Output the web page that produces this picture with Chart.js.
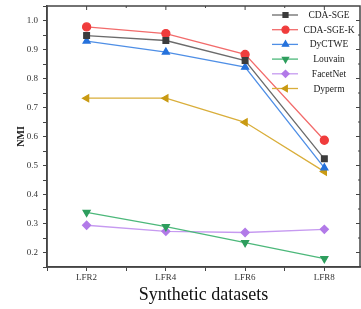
<!DOCTYPE html>
<html>
<head>
<meta charset="utf-8">
<script src="https://cdn.jsdelivr.net/npm/chart.js@4/dist/chart.umd.min.js"></script>
<style>
  html, body { margin: 0; padding: 0; background: #fff; }
  #wrap { width: 361px; height: 309px; }
</style>
</head>
<body>
<div id="wrap"><canvas id="grafico"></canvas></div>
<script>
// dati
var categorie = ['LFR2', 'LFR4', 'LFR6', 'LFR8'];
var cdaSge    = [0.948, 0.931, 0.862, 0.523];
var cdaSgeK   = [0.978, 0.955, 0.883, 0.587];
var dyctwe    = [0.929, 0.891, 0.839, 0.492];
var louvain   = [0.338, 0.289, 0.234, 0.179];
var facetNet  = [0.294, 0.273, 0.269, 0.280];
var dyperm    = [0.732, 0.732, 0.649, 0.479];
var yTicks    = [0.2, 0.3, 0.4, 0.5, 0.6, 0.7, 0.8, 0.9, 1.0];

var serie = [
  { nome: 'CDA-SGE',   valori: cdaSge,   linea: '#6b6b6b', punto: '#3c3c3c', forma: 'rect',     rot: 0 },
  { nome: 'CDA-SGE-K', valori: cdaSgeK,  linea: '#f26b6b', punto: '#f03c3c', forma: 'circle',   rot: 0 },
  { nome: 'DyCTWE',    valori: dyctwe,   linea: '#4f8fe6', punto: '#2672dc', forma: 'triangle', rot: 0 },
  { nome: 'Louvain',   valori: louvain,  linea: '#4cb87a', punto: '#2e9e5e', forma: 'triangle', rot: 180 },
  { nome: 'FacetNet',  valori: facetNet, linea: '#c69af0', punto: '#b27ae8', forma: 'rectRot',  rot: 0 },
  { nome: 'Dyperm',    valori: dyperm,   linea: '#d9ae3a', punto: '#c99a12', forma: 'triangle', rot: -90 }
];

var datasets = serie.map(function (s) {
  return {
    label: s.nome,
    data: s.valori.map(function (v, i) { return { x: i + 1, y: v }; }),
    borderColor: s.linea,
    backgroundColor: s.punto,
    pointBackgroundColor: s.punto,
    pointBorderColor: s.punto,
    pointStyle: s.forma,
    pointRotation: s.rot,
    pointRadius: 4,
    borderWidth: 1.3,
    tension: 0
  };
});

function isMajor(v) {
  return Math.abs(Math.round(v * 10) - v * 10) < 1e-6;
}

// cornice + tacche su lati alto e destro
var cornice = {
  id: 'cornice',
  afterDraw: function (chart) {
    var ctx = chart.ctx, a = chart.chartArea;
    var sx = chart.scales.x, sy = chart.scales.y;
    ctx.save();
    ctx.strokeStyle = '#444';
    ctx.lineWidth = 1.5;
    ctx.strokeRect(a.left, a.top, a.right - a.left, a.bottom - a.top);
    ctx.lineWidth = 1;
    for (var x = 1; x <= 4.01; x += 0.5) {
      var px = sx.getPixelForValue(x);
      var len = Number.isInteger(x) ? 4 : 2;
      ctx.beginPath();
      ctx.moveTo(px, a.top);
      ctx.lineTo(px, a.top + len);
      ctx.stroke();
    }
    for (var y = 0.2; y <= 1.0001; y += 0.05) {
      var py = sy.getPixelForValue(y);
      var l2 = isMajor(y) ? 4 : 2;
      ctx.beginPath();
      ctx.moveTo(a.right, py);
      ctx.lineTo(a.right - l2, py);
      ctx.stroke();
    }
    ctx.restore();
  }
};

// legenda dentro l'area del grafico
var legenda = {
  id: 'legenda',
  afterDraw: function (chart) {
    var ctx = chart.ctx;
    ctx.save();
    ctx.font = '9.5px "Liberation Serif", "Times New Roman", serif';
    ctx.textAlign = 'center';
    ctx.textBaseline = 'middle';
    chart.data.datasets.forEach(function (d, i) {
      var y = 15 + i * 14.7;
      ctx.strokeStyle = d.borderColor;
      ctx.lineWidth = 1.3;
      ctx.beginPath();
      ctx.moveTo(272, y);
      ctx.lineTo(298, y);
      ctx.stroke();
      ctx.fillStyle = d.pointBackgroundColor;
      ctx.strokeStyle = d.pointBorderColor;
      Chart.helpers.drawPoint(ctx, { pointStyle: d.pointStyle, rotation: d.pointRotation, radius: 3.5, borderWidth: 1 }, 285.5, y);
      ctx.fillStyle = '#222';
      ctx.fillText(d.label, 329, y + 0.5);
    });
    ctx.restore();
  }
};

var ctx = document.getElementById('grafico');
var chart = new Chart(ctx, {
  type: 'line',
  data: { datasets: datasets },
  options: {
    responsive: true,
    maintainAspectRatio: false,
    animation: false,
    layout: { autoPadding: false, padding: { top: 6, right: 1, left: 0, bottom: 0 } },
    plugins: { legend: { display: false }, tooltip: { enabled: false } },
    scales: {
      x: {
        type: 'linear',
        min: 0.5,
        max: 4.45,
        afterBuildTicks: function (scale) {
          var t = [];
          for (var v = 0.5; v <= 4.45; v += 0.5) t.push({ value: v });
          scale.ticks = t;
        },
        afterFit: function (scale) {
          scale.height = 42;
          scale.paddingLeft = 0;
          scale.paddingRight = 0;
        },
        grid: { drawOnChartArea: false, tickLength: 4, color: '#444', tickColor: '#444' },
        border: { color: '#444', width: 1.5 },
        ticks: {
          autoSkip: false,
          maxRotation: 0,
          padding: 1,
          color: '#333',
          font: { family: '"Liberation Serif", serif', size: 9 },
          callback: function (v) {
            return Number.isInteger(v) && v >= 1 && v <= 4 ? categorie[v - 1] : '';
          }
        },
        title: {
          display: true,
          text: 'Synthetic datasets',
          color: '#111',
          font: { family: '"Liberation Serif", serif', size: 18 },
          padding: { top: 0, bottom: 3 }
        }
      },
      y: {
        min: 0.15,
        max: 1.05,
        afterBuildTicks: function (scale) {
          var t = [];
          for (var v = 0.15; v <= 1.0501; v += 0.05) t.push({ value: Math.round(v * 100) / 100 });
          scale.ticks = t;
        },
        afterFit: function (scale) {
          scale.width = 47;
          scale.paddingTop = 0;
          scale.paddingBottom = 0;
        },
        grid: { drawOnChartArea: false, tickLength: 4, color: '#444', tickColor: '#444' },
        border: { color: '#444', width: 1.5 },
        ticks: {
          autoSkip: false,
          padding: 5,
          color: '#333',
          font: { family: '"Liberation Serif", serif', size: 9 },
          callback: function (v) {
            for (var i = 0; i < yTicks.length; i++) {
              if (Math.abs(yTicks[i] - v) < 1e-6) return yTicks[i].toFixed(1);
            }
            return '';
          }
        },
        title: {
          display: true,
          text: 'NMI',
          color: '#111',
          font: { family: '"Liberation Serif", serif', size: 10, weight: 'bold' },
          padding: { top: 15, bottom: 0 }
        }
      }
    }
  },
  plugins: [cornice, legenda]
});
</script>
</body>
</html>
